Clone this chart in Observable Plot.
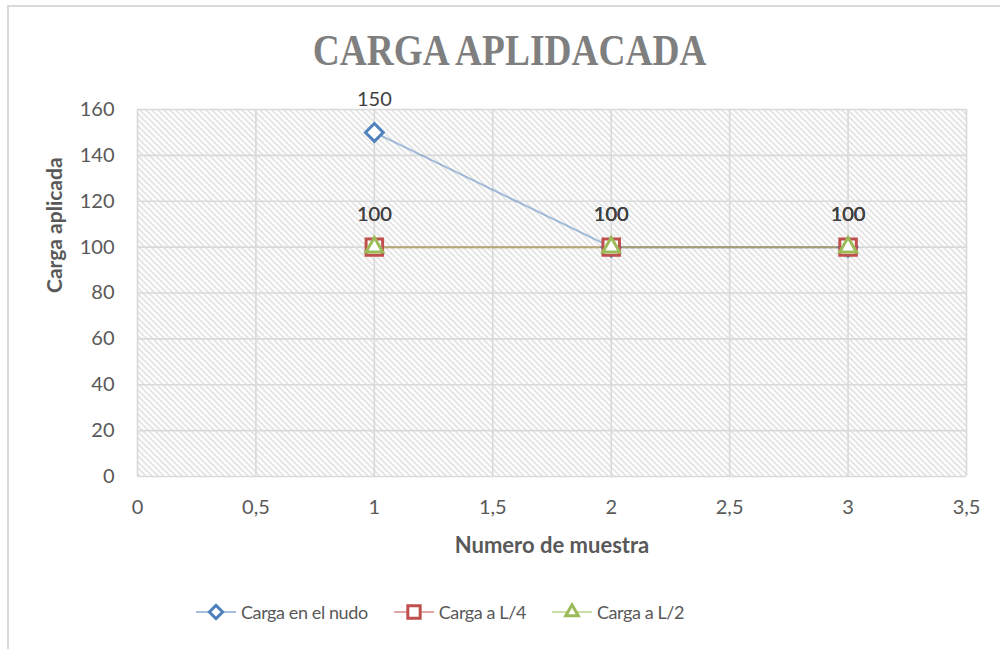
<!DOCTYPE html>
<html><head><meta charset="utf-8">
<script src="https://cdn.jsdelivr.net/npm/d3@7"></script>
<script src="https://cdn.jsdelivr.net/npm/@observablehq/plot@0.6"></script>
<style>
body{margin:0;background:#fff;width:1000px;height:649px;overflow:hidden;position:relative;font-family:Lato,sans-serif}
#frame{position:absolute;left:7px;top:5px;width:1200px;height:900px;border:2px solid #d9d9d9;box-sizing:border-box}
#title{position:absolute;left:0;top:29px;width:1019px;height:44px;line-height:44px;text-align:center;white-space:nowrap}
#title span{display:inline-block;font-family:"Liberation Serif",serif;font-weight:bold;font-size:44px;color:#7f7f7f;transform:scaleX(0.85);transform-origin:center}
#plot{position:absolute;left:0;top:0}
#legend{position:absolute;left:196px;top:600px;height:24px;display:flex;align-items:center;font-size:18px;letter-spacing:-0.4px;color:#595959}
#legend .item{display:flex;align-items:center;margin-right:26px}
#legend svg{margin-right:5px}
</style></head>
<body>
<div id="frame"></div>
<div id="plot"></div>
<div id="title"><span></span></div>
<div id="legend"></div>
<script>
const titleText = "CARGA APLIDACADA";
const xLabel = "Numero de muestra";
const yLabel = "Carga aplicada";
const muestras = [1, 2, 3];
const seriesNames = ["Carga en el nudo", "Carga a L/4", "Carga a L/2"];
const cargaNudo = [150, 100, 100];
const cargaL4 = [100, 100, 100];
const cargaL2 = [100, 100, 100];
const xTicks = [0, 0.5, 1, 1.5, 2, 2.5, 3, 3.5];
const yTicks = [0, 20, 40, 60, 80, 100, 120, 140, 160];
const seriesColors = ["#4F81BD", "#C0504D", "#9BBB59"];
const seriesSymbols = ["diamond2", "square2", "triangle2"];
const seriesR = [8, 10.5, 8];

document.querySelector("#title span").textContent = titleText;

const allValues = [cargaNudo, cargaL4, cargaL2];
const data = [];
seriesNames.forEach((s, i) => muestras.forEach((m, j) => data.push({series: s, x: m, y: allValues[i][j]})));

const fmt = d => String(d).replace(".", ",");

function hatch(index, scales, values, dims) {
  const x0 = scales.x(0), x1 = scales.x(3.5), y0 = scales.y(160), y1 = scales.y(0);
  const g = d3.create("svg:g");
  const pat = g.append("defs").append("pattern").attr("id", "hatch")
    .attr("patternUnits", "userSpaceOnUse").attr("width", 6).attr("height", 6);
  pat.append("rect").attr("width", 6).attr("height", 6).attr("fill", "#fff");
  pat.append("path").attr("d", "M0,0L6,6M-1,5L1,7M5,-1L7,1")
    .attr("stroke", "#e6e6e6").attr("stroke-width", 2);
  g.append("rect").attr("x", x0).attr("y", y0).attr("width", x1 - x0).attr("height", y1 - y0)
    .attr("fill", "url(#hatch)");
  return g.node();
}

const marks = [
  hatch,
  Plot.gridX(xTicks, {stroke: "#d9d9d9", strokeOpacity: 1, strokeWidth: 1.6}),
  Plot.gridY(yTicks, {stroke: "#d9d9d9", strokeOpacity: 1, strokeWidth: 1.6}),
  Plot.axisX(xTicks, {tickSize: 0, tickPadding: 23, tickFormat: fmt, fontSize: 20, fill: "#595959", label: null}),
  Plot.axisY(yTicks, {tickSize: 0, tickPadding: 23, fontSize: 20, fill: "#595959", label: null})
];
seriesNames.forEach((s, i) => {
  const sub = data.filter(d => d.series === s);
  marks.push(Plot.line(sub, {x: "x", y: "y", stroke: seriesColors[i], strokeOpacity: 0.5, strokeWidth: 2}));
});
seriesNames.forEach((s, i) => {
  const sub = data.filter(d => d.series === s);
  marks.push(Plot.dot(sub, {x: "x", y: "y", symbol: () => seriesSymbols[i], stroke: seriesColors[i], fill: "white", strokeWidth: 3, r: seriesR[i]}));
});
seriesNames.forEach((s, i) => {
  const sub = data.filter(d => d.series === s);
  marks.push(Plot.text(sub, {x: "x", y: "y", text: d => String(d.y), dy: -33, fontSize: 20, fill: "#404040", lineAnchor: "middle"}));
});
marks.push(Plot.text([yLabel], {frameAnchor: "left", dx: -82, rotate: -90, fontSize: 21, fontWeight: "bold", fill: "#595959", lineAnchor: "middle"}));
marks.push(Plot.text([xLabel], {frameAnchor: "bottom", dy: 69, fontSize: 22, fontWeight: "bold", fill: "#595959", lineAnchor: "middle"}));

const chart = Plot.plot({
  width: 1000, height: 560,
  marginTop: 109, marginBottom: 84, marginLeft: 137, marginRight: 34,
  x: {domain: [0, 3.5], axis: null},
  y: {domain: [0, 160], axis: null},
  symbol: {type: "identity"},
  style: {fontFamily: "Lato, sans-serif", fontSize: "20px", background: "transparent", overflow: "visible"},
  marks
});
document.getElementById("plot").appendChild(chart);

// legend
const legend = d3.select("#legend");
const symMap = {diamond2: d3.symbolDiamond2, square2: d3.symbolSquare2, triangle2: d3.symbolTriangle2};
seriesNames.forEach((s, i) => {
  const item = legend.append("div").attr("class", "item");
  const svg = item.append("svg").attr("width", 40).attr("height", 22);
  svg.append("line").attr("x1", 0).attr("x2", 40).attr("y1", 11).attr("y2", 11)
    .attr("stroke", seriesColors[i]).attr("stroke-opacity", 0.5).attr("stroke-width", 2);
  svg.append("path").attr("transform", "translate(20,11)")
    .attr("d", d3.symbol(symMap[seriesSymbols[i]], Math.PI * (seriesR[i] * 0.75) ** 2)())
    .attr("fill", "white").attr("stroke", seriesColors[i]).attr("stroke-width", 3);
  item.append("span").text(s);
});
</script>
</body></html>
